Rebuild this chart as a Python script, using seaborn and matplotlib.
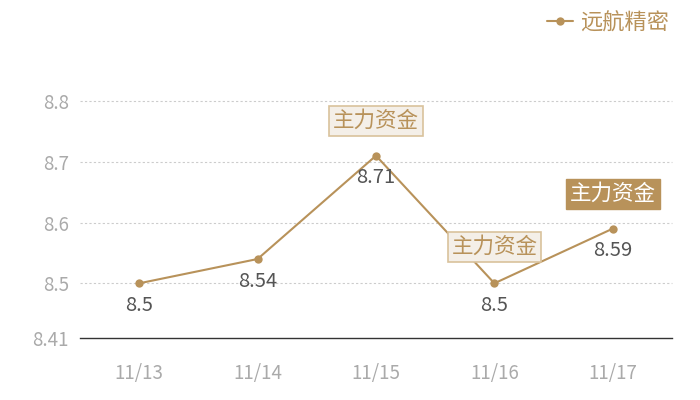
import matplotlib
matplotlib.use("Agg")
import matplotlib.pyplot as plt
import seaborn as sns
import pandas as pd

# data
dates = ["11/13", "11/14", "11/15", "11/16", "11/17"]
values = [8.5, 8.54, 8.71, 8.5, 8.59]
series_name = "远航精密"
mark_text = "主力资金"
mark_dates = ["11/15", "11/16", "11/17"]

gold = "#b8925a"
sns.set_style("white")
plt.rcParams["font.family"] = ["Noto Sans CJK SC", "DejaVu Sans"]

df = pd.DataFrame({"date": dates, "value": values})

fig = plt.figure(figsize=(7, 4), dpi=100)
ax = fig.add_axes([80 / 700, 62 / 400, 592 / 700, 237 / 400])

sns.lineplot(data=df, x="date", y="value", ax=ax, color=gold, marker="o",
             markersize=6, markeredgewidth=0, linewidth=1.5, sort=False,
             label=series_name)

ax.set_xlim(-0.5, len(dates) - 0.5)
ax.set_ylim(8.41, 8.8)
ax.set_yticks([8.41, 8.5, 8.6, 8.7, 8.8])
ax.set_yticklabels(["8.41", "8.5", "8.6", "8.7", "8.8"])
ax.set_xlabel("")
ax.set_ylabel("")
for y in [8.5, 8.6, 8.7, 8.8]:
    ax.axhline(y, color="#cccccc", linestyle=(0, (2, 2)), linewidth=0.8, zorder=0,
               clip_on=False)
for s in ["top", "right", "left"]:
    ax.spines[s].set_visible(False)
ax.spines["bottom"].set_color("#333333")
ax.spines["bottom"].set_linewidth(1)
ax.tick_params(axis="both", length=0, labelsize=13.5, colors="#aaaaaa")
ax.tick_params(axis="x", pad=18)
ax.tick_params(axis="y", pad=8)

# value labels below points
for i, v in enumerate(values):
    ax.annotate(f"{v:g}", (i, v), xytext=(0, -16), textcoords="offset points",
                ha="center", va="center", fontsize=14.5, color="#555555")

# mark point labels
offsets = {"11/15": 25, "11/16": 26, "11/17": 25}
for d in mark_dates:
    i = dates.index(d)
    v = values[i]
    if d == "11/17":
        box = dict(boxstyle="square,pad=0.18", fc=gold, ec=gold, lw=1)
        tc = "white"
    else:
        box = dict(boxstyle="square,pad=0.18", fc="#f4efe8", ec="#d9c29c", lw=1.2)
        tc = gold
    ax.annotate(mark_text, (i, v), xytext=(0, offsets[d]), textcoords="offset points",
                ha="center", va="center", fontsize=15.5, color=tc, bbox=box,
                annotation_clip=False, zorder=5)

leg = ax.legend(loc="upper right", bbox_to_anchor=(680 / 700, 1.0), frameon=False,
                fontsize=16, handlelength=1.2, handletextpad=0.3,
                bbox_transform=fig.transFigure, borderaxespad=0.1)
for t in leg.get_texts():
    t.set_color(gold)

fig.savefig("out.png", dpi=100)
